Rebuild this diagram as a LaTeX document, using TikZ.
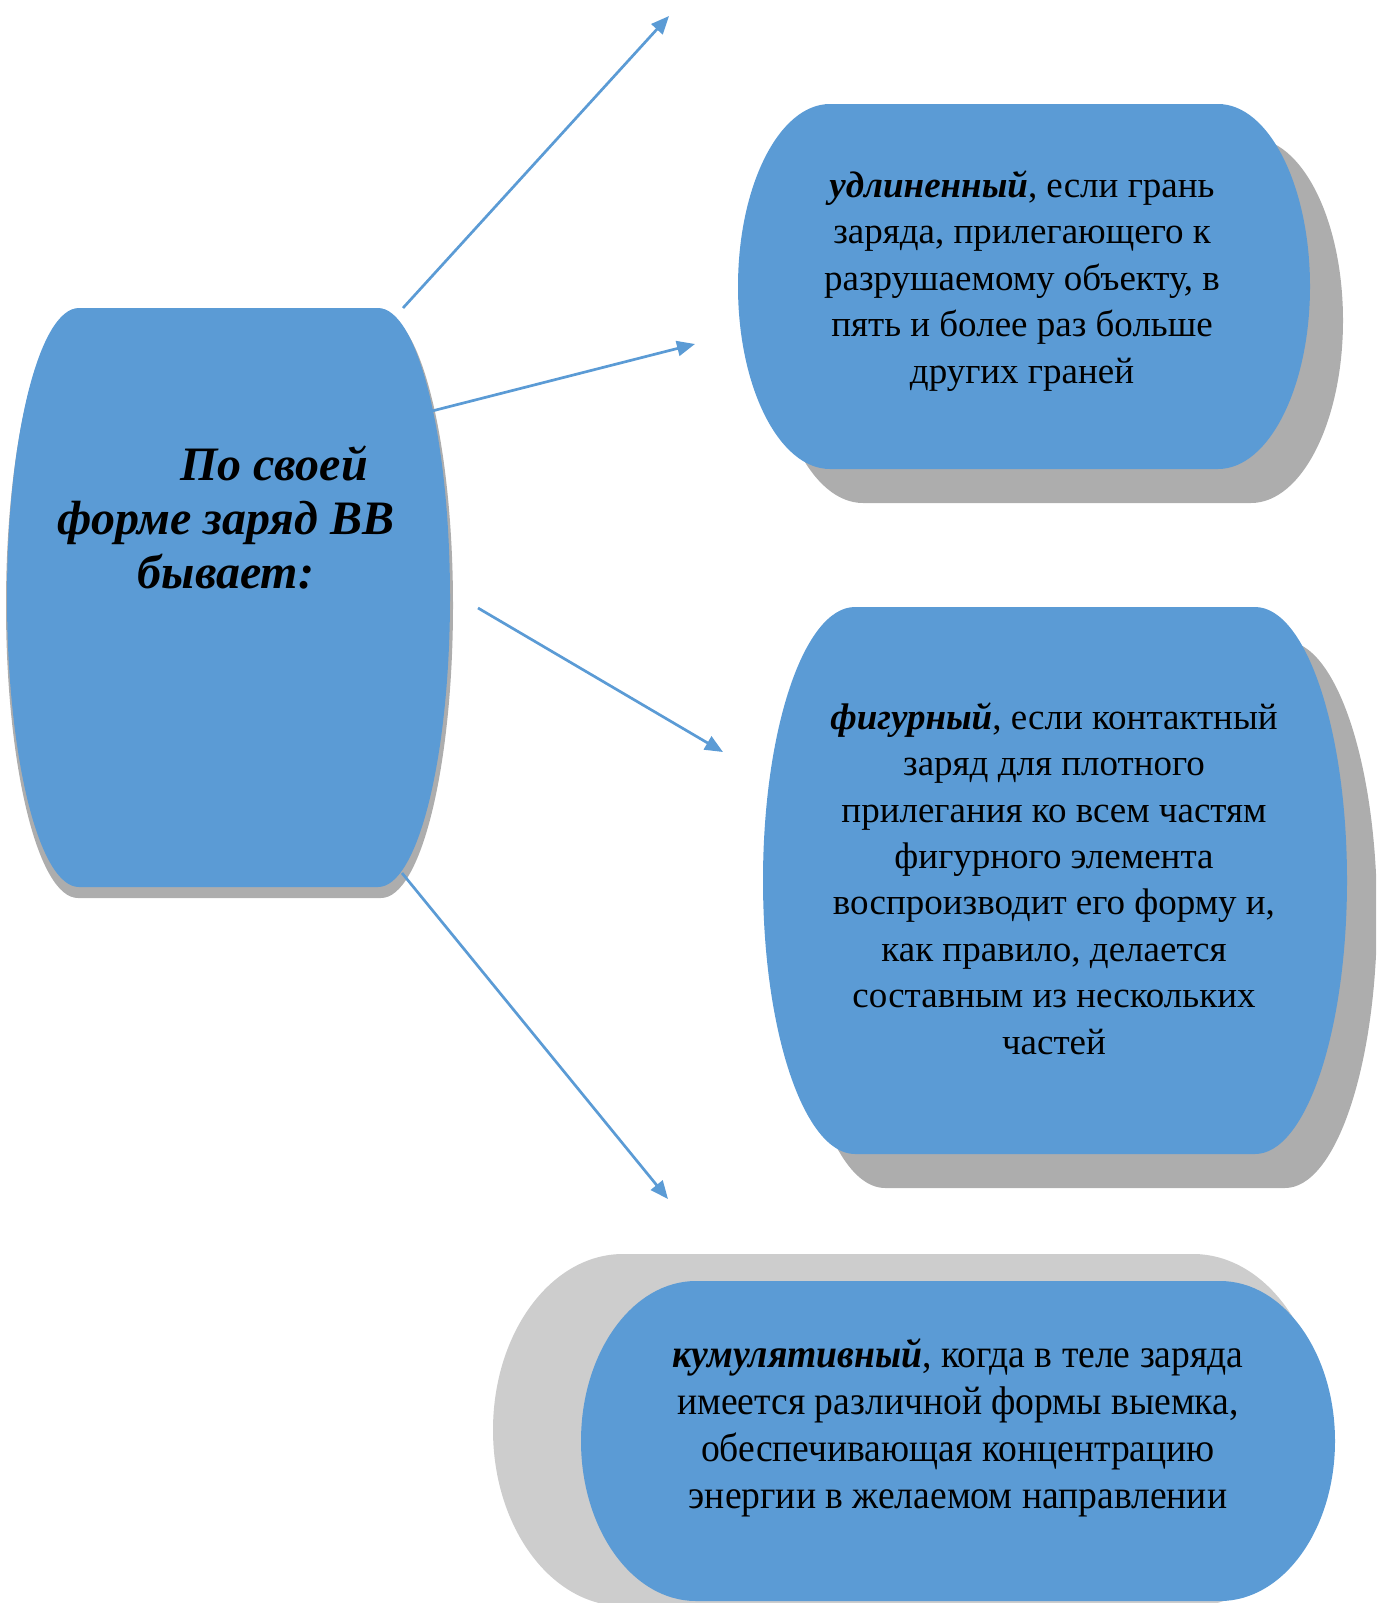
\documentclass[tikz,border=0pt]{standalone}
\usepackage{fontspec}
\setmainfont{Liberation Serif}
\newfontfamily\narrowfont[FakeStretch=0.94]{Liberation Serif}
\usetikzlibrary{arrows.meta}
\definecolor{boxblue}{HTML}{5B9BD5}
\definecolor{shadowgray}{HTML}{ADADAD}
\definecolor{lightshadow}{HTML}{CDCDCD}
\newcommand\termshape[7]{%
  \fill[#1] ({#2+#6},#3) -- ({#4-#6},#3)
    arc[start angle=90,end angle=-90,x radius=#6pt,y radius=#7pt]
    -- ({#2+#6},#5)
    arc[start angle=270,end angle=90,x radius=#6pt,y radius=#7pt] -- cycle;}
\tikzset{
  conn/.style={draw=boxblue, line width=2.7pt, -{Triangle[length=18pt,width=15pt]}},
  boxtext/.style={align=center, inner sep=0pt, anchor=base, text=black,
    font=\fontsize{37}{46.5}\selectfont},
  maintext/.style={align=center, inner sep=0pt, anchor=base, text=black,
    font=\fontsize{48}{54}\selectfont\bfseries\itshape},
}
\begin{document}
\begin{tikzpicture}[x=1pt,y=-1pt]
\useasboundingbox (0,0) rectangle (1376,1603);
\clip (0,0) rectangle (1376,1603);
% main shape
\termshape{shadowgray}{6}{313}{453}{898}{72}{292.5}
\termshape{boxblue}{7}{308}{450}{887}{72}{289.5}
% box 1
\termshape{shadowgray}{771}{138}{1343}{503}{92}{182.5}
\termshape{boxblue}{738}{104}{1310}{469}{92}{182.5}
% box 2
\termshape{shadowgray}{793}{641}{1377}{1188}{92}{273.5}
\termshape{boxblue}{763}{607}{1347}{1154}{92}{273.5}
% box 3
\termshape{lightshadow}{493}{1254}{1323}{1606}{130}{176}
\termshape{boxblue}{581}{1281}{1335}{1601}{115}{160}
% texts (anchor = baseline of the last line)
\node[maintext] (main) at (226,588) {\hspace*{96pt}По своей\\форме заряд ВВ\\бывает:};
\node[boxtext] (b1) at (1022,383) {\textbf{\textit{удлиненный}}, если грань\\заряда, прилегающего к\\разрушаемому объекту, в\\пять и более раз больше\\других граней};
\node[boxtext, font=\fontsize{37}{46.4}\selectfont] (b2) at (1054,1054) {\textbf{\textit{фигурный}}, если контактный\\заряд для плотного\\прилегания ко всем частям\\фигурного элемента\\воспроизводит его форму и,\\как правило, делается\\составным из нескольких\\частей};
\node[boxtext, font=\fontsize{40}{47}\narrowfont] (b3) at (958,1508) {\textbf{\textit{кумулятивный}}, когда в теле заряда\\имеется различной формы выемка,\\обеспечивающая концентрацию\\энергии в желаемом направлении};
% connectors
\coordinate (a1s) at (403,308); \coordinate (a1e) at (669,16);
\coordinate (a2s) at (432,411); \coordinate (a2e) at (695,344);
\coordinate (a3s) at (478,608); \coordinate (a3e) at (723,752);
\coordinate (a4s) at (402,873); \coordinate (a4e) at (668,1199);
\draw[conn] (a1s) -- (a1e);
\draw[conn] (a2s) -- (a2e);
\draw[conn] (a3s) -- (a3e);
\draw[conn] (a4s) -- (a4e);
\end{tikzpicture}
\end{document}
